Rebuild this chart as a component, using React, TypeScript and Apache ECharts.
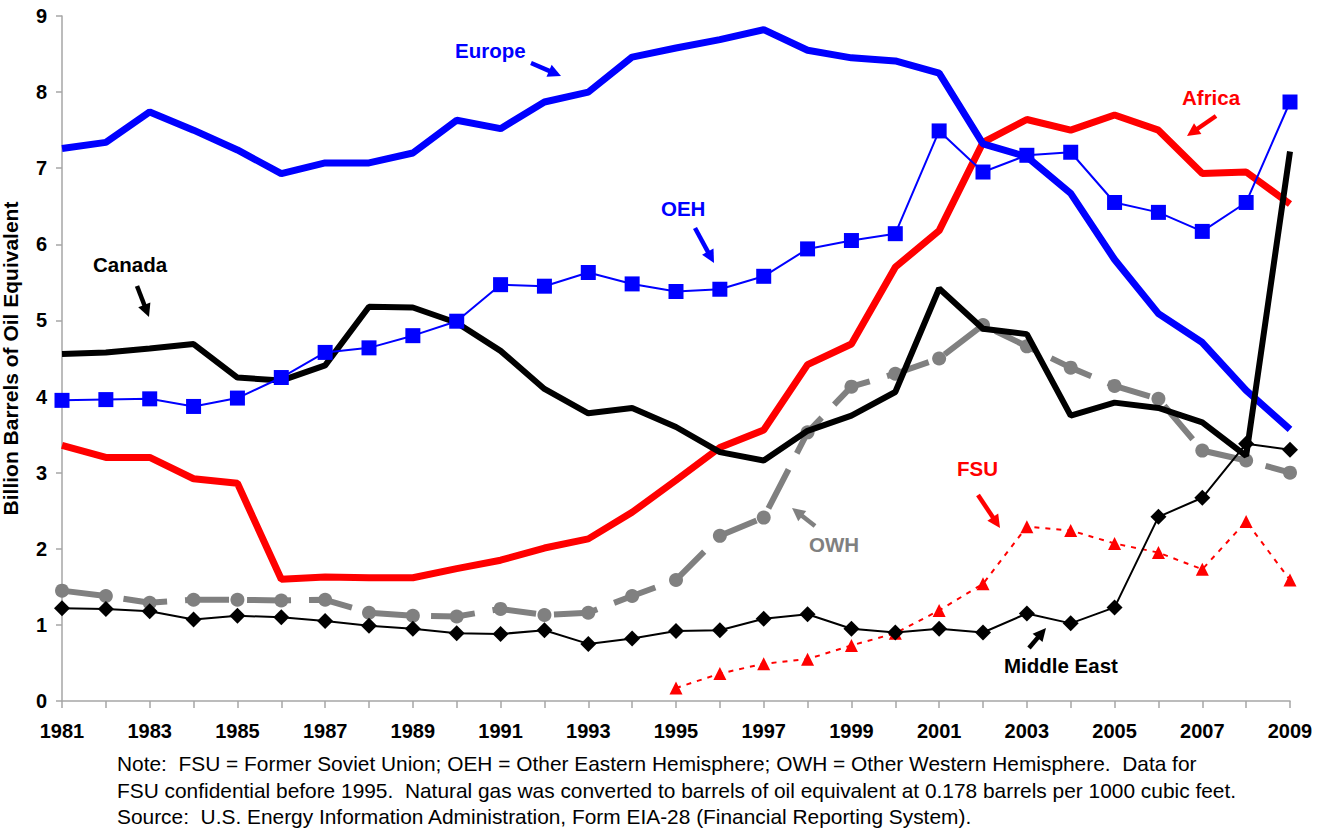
import React, { useEffect, useRef } from "react";
import * as echarts from "echarts";

const years = ["1981","1982","1983","1984","1985","1986","1987","1988","1989","1990","1991","1992","1993","1994","1995","1996","1997","1998","1999","2000","2001","2002","2003","2004","2005","2006","2007","2008","2009"];

const europe = [7.26,7.34,7.74,7.5,7.24,6.93,7.07,7.07,7.2,7.63,7.52,7.87,8.0,8.46,8.58,8.69,8.82,8.55,8.45,8.41,8.25,7.32,7.15,6.67,5.8,5.09,4.71,4.08,3.57];
const africa = [3.36,3.2,3.2,2.92,2.86,1.6,1.63,1.62,1.62,1.74,1.85,2.01,2.13,2.48,2.9,3.33,3.56,4.42,4.69,5.7,6.18,7.34,7.64,7.5,7.7,7.5,6.93,6.95,6.53];
const oeh = [3.95,3.96,3.97,3.87,3.98,4.25,4.58,4.64,4.8,4.99,5.47,5.45,5.63,5.48,5.38,5.41,5.58,5.94,6.05,6.14,7.49,6.95,7.17,7.21,6.55,6.42,6.17,6.55,7.87];
const canada = [4.56,4.58,4.63,4.69,4.25,4.21,4.41,5.18,5.17,4.97,4.6,4.1,3.78,3.85,3.6,3.27,3.16,3.55,3.75,4.06,5.42,4.89,4.82,3.75,3.92,3.85,3.66,3.22,7.22];
const owh = [1.45,1.38,1.29,1.33,1.33,1.32,1.33,1.16,1.12,1.11,1.21,1.13,1.16,1.38,1.59,2.17,2.41,3.53,4.13,4.3,4.5,4.94,4.66,4.38,4.14,3.97,3.29,3.16,3.0];
const middleEast = [1.22,1.21,1.18,1.07,1.12,1.1,1.05,0.99,0.95,0.89,0.88,0.93,0.75,0.82,0.92,0.93,1.08,1.14,0.95,0.9,0.95,0.9,1.15,1.02,1.23,2.42,2.67,3.38,3.3];
const fsu = [null,null,null,null,null,null,null,null,null,null,null,null,null,null,0.17,0.36,0.49,0.55,0.73,0.89,1.19,1.54,2.29,2.24,2.07,1.95,1.73,2.36,1.59];

const yTicks = { min: 0, max: 9, interval: 1 };
const noteLines = [
  "Note:  FSU = Former Soviet Union; OEH = Other Eastern Hemisphere; OWH = Other Western Hemisphere.  Data for",
  "FSU confidential before 1995.  Natural gas was converted to barrels of oil equivalent at 0.178 barrels per 1000 cubic feet.",
  "Source:  U.S. Energy Information Administration, Form EIA-28 (Financial Reporting System).",
];

const FONT = "'Liberation Sans', Arial, sans-serif";

function arrow(x1: number, y1: number, x2: number, y2: number, color: string) {
  const ang = Math.atan2(y2 - y1, x2 - x1);
  const c = Math.cos(ang), s = Math.sin(ang);
  const h = 13, w = 13;
  const bx = x2 - c * h, by = y2 - s * h;
  return [
    { type: "line", shape: { x1, y1, x2: x2 - c * (h - 2), y2: y2 - s * (h - 2) }, style: { stroke: color, lineWidth: 4.5 } },
    { type: "polygon", shape: { points: [[x2, y2], [bx - s * w / 2, by + c * w / 2], [bx + s * w / 2, by - c * w / 2]] }, style: { fill: color } },
  ];
}

function label(text: string, x: number, y: number, color: string) {
  return { type: "text", x, y, style: { text, fill: color, font: `bold 20.5px ${FONT}`, textVerticalAlign: "middle" } };
}

export default function App() {
  const ref = useRef<HTMLDivElement>(null);
  useEffect(() => {
    document.body.style.margin = "0";
    const chart = echarts.init(ref.current!, null, { renderer: "svg" });
    const graphic: any[] = [
      label("Europe", 455, 50, "#0000FF"), ...arrow(531, 63, 561, 76, "#0000FF"),
      label("OEH", 661, 208, "#0000FF"), ...arrow(695, 228, 714, 263, "#0000FF"),
      label("Canada", 93, 264, "#000000"), ...arrow(137, 286, 149, 317, "#000000"),
      label("Africa", 1182, 97, "#FF0000"), ...arrow(1216, 116, 1187, 136, "#FF0000"),
      label("FSU", 957, 468, "#FF0000"), ...arrow(978, 495, 1000, 528, "#FF0000"),
      label("OWH", 809, 544, "#808080"), ...arrow(815, 526, 792, 508, "#808080"),
      label("Middle East", 1004, 665, "#000000"), ...arrow(1029, 648, 1046, 628, "#000000"),
    ];
    noteLines.forEach((t, i) => {
      graphic.push({ type: "text", x: 117, y: 764 + i * 26.5, scaleX: 1.045, style: { text: t, fill: "#000", font: `20px ${FONT}`, textVerticalAlign: "middle" } });
    });

    chart.setOption({
      animation: false,
      backgroundColor: "#ffffff",
      grid: { left: 62, right: 40, top: 16, bottom: 129, containLabel: false, outerBoundsMode: "none" },
      xAxis: {
        type: "category",
        data: years,
        boundaryGap: false,
        axisLine: { lineStyle: { color: "#a6a6a6", width: 1.5 } },
        axisTick: { show: true, interval: 0, length: 7, lineStyle: { color: "#a6a6a6", width: 1.5 } },
        axisLabel: { interval: 1, color: "#000", fontWeight: "bold", fontSize: 20, fontFamily: FONT, margin: 20 },
        splitLine: { show: false },
      },
      yAxis: {
        type: "value",
        min: yTicks.min,
        max: yTicks.max,
        interval: yTicks.interval,
        name: "Billion Barrels of Oil Equivalent",
        nameLocation: "middle",
        nameGap: 41,
        nameTextStyle: { color: "#000", fontWeight: "bold", fontSize: 21, fontFamily: FONT },
        axisLine: { show: true, lineStyle: { color: "#a6a6a6", width: 1.5 } },
        axisTick: { show: true, length: 6, lineStyle: { color: "#a6a6a6", width: 1.5 } },
        axisLabel: { color: "#000", fontWeight: "bold", fontSize: 20, fontFamily: FONT, margin: 15 },
        splitLine: { show: false },
      },
      series: [
        { name: "Africa", type: "line", data: africa, symbol: "none", lineStyle: { color: "#FF0000", width: 7 }, itemStyle: { color: "#FF0000" }, z: 2 },
        { name: "Europe", type: "line", data: europe, symbol: "none", lineStyle: { color: "#0000FF", width: 7 }, itemStyle: { color: "#0000FF" }, z: 3 },
        { name: "OWH", type: "line", data: owh, symbol: "circle", symbolSize: 14, lineStyle: { color: "#808080", width: 6, type: [44, 18] }, itemStyle: { color: "#808080" }, z: 4 },
        { name: "Canada", type: "line", data: canada, symbol: "none", lineStyle: { color: "#000000", width: 6 }, itemStyle: { color: "#000" }, z: 5 },
        { name: "FSU", type: "line", data: fsu, symbol: "triangle", symbolSize: 13, lineStyle: { color: "#FF0000", width: 2, type: [5, 6] }, itemStyle: { color: "#FF0000" }, z: 6 },
        { name: "Middle East", type: "line", data: middleEast, symbol: "diamond", symbolSize: 16, lineStyle: { color: "#000000", width: 2 }, itemStyle: { color: "#000" }, z: 7 },
        { name: "OEH", type: "line", data: oeh, symbol: "rect", symbolSize: 15, lineStyle: { color: "#0000FF", width: 2 }, itemStyle: { color: "#0000FF" }, z: 8 },
      ],
      graphic,
    });
    return () => chart.dispose();
  }, []);
  return <div ref={ref} style={{ width: 1330, height: 830 }} />;
}
